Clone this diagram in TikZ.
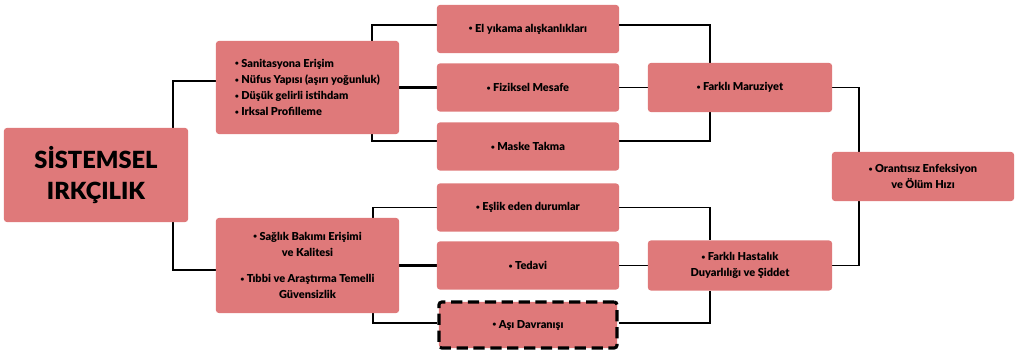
\documentclass[tikz,border=0pt]{standalone}
\usepackage{fontspec}
\setmainfont{Lato}[BoldFont={Lato Black}]
\usetikzlibrary{backgrounds}
\definecolor{boxred}{RGB}{223,121,122}
\newcommand{\bul}{\raisebox{0.25ex}{\fontsize{4.5}{0}\selectfont•}\ }
\tikzstyle{box} = [rectangle,rounded corners=2pt,fill=boxred,align=center,inner sep=2pt,font=\bfseries\fontsize{7.8}{11.5}\selectfont]
\tikzstyle{link} = [line width=1.4pt]
\tikzstyle{mainlink} = [line width=2.2pt]

\begin{document}
\begin{tikzpicture}[x=0.025cm,y=-0.025cm]
	\useasboundingbox (0,0) rectangle (1021,353);
	\node[box,minimum width=4.6cm,minimum height=2.35cm,font=\bfseries\fontsize{16.8}{22.5}\selectfont] (sys) at (96,175) {SİSTEMSEL\\IRKÇILIK};
	\node[box,minimum width=4.575cm,minimum height=2.325cm,align=left] (risk) at (307.5,87.5) {\bul Sanitasyona Erişim\\\bul Nüfus Yapısı (aşırı yoğunluk)\\\bul Düşük gelirli istihdam\\\bul Irksal Profilleme};
	\node[box,minimum width=4.575cm,minimum height=2.375cm] (care) at (307.5,265.5) {\bul Sağlık Bakımı Erişimi\\ve Kalitesi\\[7pt]\bul Tıbbi ve Araştırma Temelli\\Güvensizlik};
	\node[box,minimum width=4.55cm,minimum height=1.2cm] (hand) at (528,29) {\bul El yıkama alışkanlıkları};
	\node[box,minimum width=4.55cm,minimum height=1.2cm] (dist) at (528,87.5) {\bul Fiziksel Mesafe};
	\node[box,minimum width=4.55cm,minimum height=1.2cm] (mask) at (528,146.5) {\bul Maske Takma};
	\node[box,minimum width=4.55cm,minimum height=1.2cm] (comorb) at (528,207.5) {\bul Eşlik eden durumlar};
	\node[box,minimum width=4.55cm,minimum height=1.2cm] (treat) at (528,265.5) {\bul Tedavi};
	\node[box,minimum width=4.45cm,minimum height=1.15cm,draw,line width=2.2pt,dash pattern=on 8pt off 4pt] (vacc) at (528,325) {\bul Aşı Davranışı};
	\node[box,minimum width=4.6cm,minimum height=1.225cm] (expo) at (740,87.5) {\bul Farklı Maruziyet};
	\node[box,minimum width=4.6cm,minimum height=1.25cm] (susc) at (740,265.5) {\bul Farklı Hastalık\\Duyarlılığı ve Şiddet};
	\node[box,minimum width=4.55cm,minimum height=1.225cm] (outc) at (923,176.5) {\bul Orantısız Enfeksiyon\\ve Ölüm Hızı};
	\begin{pgfonlayer}{background}
	\draw[link] ([yshift=0.16cm]risk.west) -- ++(-43,0) |- ([yshift=-0.11cm]care.west);
	\draw[link] ([yshift=0.1cm]hand.west) -- ++(-65,0) |- ([yshift=0.14cm]mask.west);
	\draw[link] (comorb.west) -- ++(-64,0) |- ([yshift=0.05cm]vacc.west);
	\draw[mainlink] (risk.east) -- (dist.west);
	\draw[mainlink] (care.east) -- (treat.west);
	\draw[link] ([yshift=0.1cm]hand.east) -| ([xshift=-0.75cm]expo.north);
	\draw[link] ([yshift=0.14cm]mask.east) -| ([xshift=-0.75cm]expo.south);
	\draw[link] (dist.east) -- (expo.west);
	\draw[link] (comorb.east) -| ([xshift=-0.75cm]susc.north);
	\draw[link] ([yshift=0.05cm]vacc.east) -| ([xshift=-0.75cm]susc.south);
	\draw[link] (treat.east) -- (susc.west);
	\draw[link] (expo.east) -| ([xshift=-1.6cm]outc.north);
	\draw[link] (susc.east) -| ([xshift=-1.6cm]outc.south);
	\end{pgfonlayer}
\end{tikzpicture}
\end{document}
